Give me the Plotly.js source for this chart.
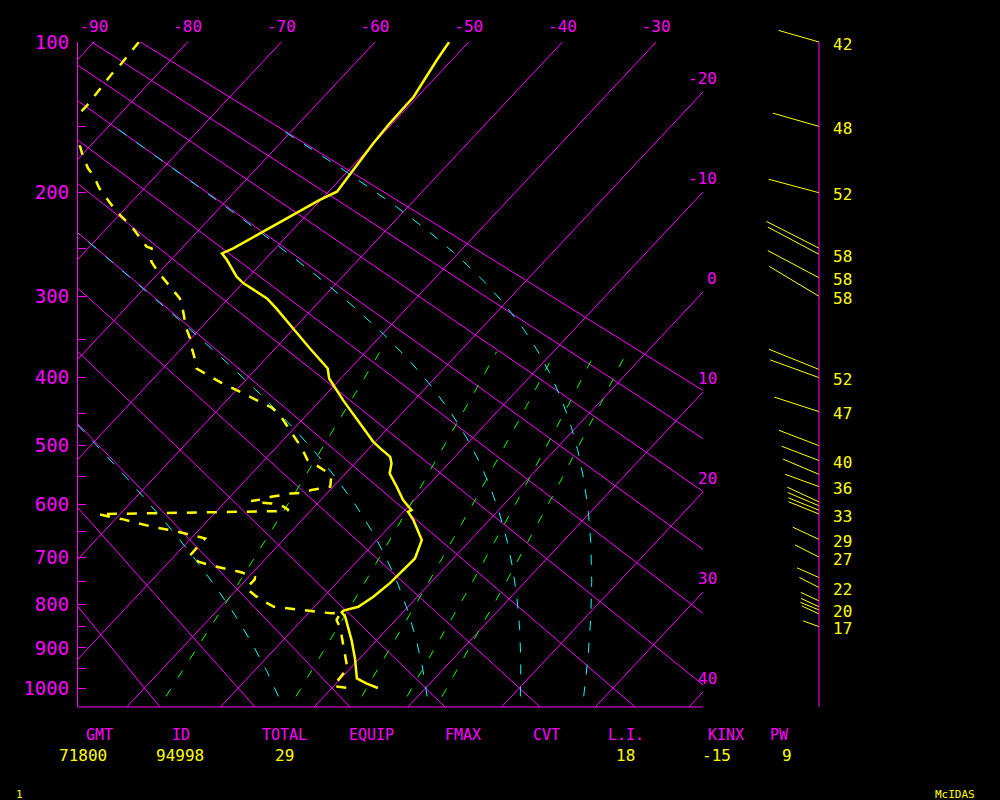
<!DOCTYPE html>
<html>
<head>
<meta charset="utf-8">
<script src="https://cdn.plot.ly/plotly-3.0.1.min.js"></script>
<style>
  html, body { margin: 0; padding: 0; background: #000; }
  #chart { width: 1000px; height: 800px; }
</style>
</head>
<body>
<div id="chart"></div>
<script>
// ---------------- DATA ----------------
// Temperature profile (hPa, °C)
const tempP = [100, 109.5, 130.8, 147.9, 161.8, 184.3, 199.1, 206.1, 250.1, 255.1, 261.7, 278.9, 285.9, 302.3, 313.6, 337.1, 361.8, 387.7, 401.1, 431.3, 493.9, 504.3, 517.9, 528.7, 545.4, 568.3, 591.7, 609.8, 612.9, 628.2, 660.0, 666.3, 702.6, 733.3, 753.7, 783.1, 805.1, 813.5, 816.9, 827.5, 850.3, 881.3, 925.5, 975.3, 988.1, 1000];
const tempT = [-52.1, -51.6, -50.4, -50.3, -50.05, -49.5, -49.1, -50.1, -54.5, -55.2, -54.0, -51.3, -49.9, -45.9, -43.9, -40.1, -36.3, -32.4, -31.25, -27.6, -20.2, -18.8, -16.9, -16.1, -15.3, -13.2, -11.2, -9.3, -9.5, -8.1, -5.7, -5.2, -4.1, -4.2, -4.3, -4.7, -5.3, -6.5, -6.55, -5.7, -4.4, -2.7, -0.5, 1.7, 3.2, 4.9];

// Dewpoint profile (hPa, °C)
const dewP = [100, 106.8, 112.2, 117.3, 123.7, 129.1, 136.0, 142.4, 153.1, 164.2, 171.6, 180.4, 187.0, 196.3, 201.9, 211.9, 219.2, 229.7, 237.4, 248.6, 250.2, 255.1, 263.4, 273.7, 283.1, 293.1, 302.3, 313.6, 325.2, 337.1, 349.2, 361.8, 374.5, 387.7, 394.4, 401.1, 407.1, 413.5, 421.0, 427.5, 435.2, 441.9, 451.7, 465.6, 481.9, 495.5, 511.4, 523.2, 533.2, 542.7, 551.1, 568.3, 571.1, 574.0, 578.8, 579.8, 582.9, 585.9, 590.5, 593.5, 596.6, 597.7, 600.8, 609.8, 611.6, 617.2, 624.0, 626.9, 632.5, 642.0, 649.0, 658.6, 663.0, 698.0, 709.5, 716.2, 725.0, 730.0, 736.9, 741.0, 745.8, 765.0, 781.6, 794.0, 805.1, 807.3, 812.4, 817.6, 819.2, 818.0, 834.9, 853.3, 881.3, 900.5, 929.6, 950.2, 975.3, 995.0, 1000];
const dewT = [-85.2, -85.0, -84.9, -84.9, -84.7, -84.5, -84.4, -84.4, -84.5, -81.0, -79.7, -78.0, -76.5, -74.8, -73.6, -71.5, -69.9, -67.5, -66.0, -63.9, -63.2, -62.7, -61.9, -60.2, -58.5, -56.7, -55.2, -53.9, -52.7, -51.5, -50.1, -48.9, -47.6, -46.4, -45.0, -43.6, -42.3, -40.8, -39.1, -37.6, -35.9, -34.5, -33.0, -31.4, -29.6, -28.1, -26.5, -25.4, -23.7, -22.2, -21.2, -20.3, -21.1, -22.0, -22.8, -23.8, -24.7, -25.6, -26.4, -27.3, -26.0, -24.9, -23.7, -22.4, -23.1, -42.3, -40.2, -39.1, -37.6, -34.95, -32.4, -29.8, -28.5, -28.4, -26.8, -25.3, -22.7, -21.5, -20.0, -19.3, -19.1, -19.1, -17.3, -15.8, -14.3, -13.1, -10.8, -8.6, -7.5, -6.6, -6.3, -5.1, -3.7, -2.7, -1.3, -0.3, -0.2, -0.05, 1.8];

// Background lines
const isotherms = [-90, -80, -70, -60, -50, -40, -30, -20, -10, 0, 10, 20, 30, 40];
const dryAdiabatsC = [-20, -10, 0, 10, 20, 30, 40, 50, 60, 70, 80, 90];
const mixingRatios = [1, 3, 5, 7, 9];          // g/kg
const thetaE_C = [0, 30, 60, 90];              // equivalent potential temperature, °C

// Axis labels
const pressureTicks = [100, 150, 200, 250, 300, 350, 400, 450, 500, 550, 600, 650, 700, 750, 800, 850, 900, 950, 1000];
const pressureLabels = ['100', '', '200', '', '300', '', '400', '', '500', '', '600', '', '700', '', '800', '', '900', '', '1000'];
const topTempTicks = [-90, -80, -70, -60, -50, -40, -30];
const rightTempLabels = [-20, -10, 0, 10, 20, 30, 40];

// Winds
const windP   = [100, 150, 200, 250, 256, 280, 300, 389, 400, 448, 500, 524, 547, 568, 595, 602, 610, 617, 665, 700, 742, 763, 792, 805, 812, 821, 850];
const windDir = [286, 286, 285, 297, 298, 298, 301, 292, 290, 288, 291, 291, 293, 290, 295, 293, 292, 292, 295, 297, 294, 297, 295, 295, 292, 295, 290];
const windSpd = [42, 48, 52, 59, 58, 58, 58, 54, 52, 47, 43, 40, 39, 36, 35, 34, 33, 33, 29, 27, 24, 22, 20, 20, 20, 19, 17];
const windLabeled = [1, 1, 1, 0, 1, 1, 1, 0, 1, 1, 0, 1, 0, 1, 0, 0, 0, 1, 1, 1, 0, 1, 0, 0, 1, 0, 1];

// Station statistics
const statNames  = ['GMT', 'ID', 'TOTAL', 'EQUIP', 'FMAX', 'CVT', 'L.I.', 'KINX', 'PW'];
const statValues = ['71800', '94998', '29', '', '', '', '18', '-15', '9'];

// ---------------- GEOMETRY ----------------
const KEXP = 0.295, PTOP = 100, PBOT = 1050, SKEW = 66.5;
const PLOT_H = 665, EXTRA_T = 22, FULL_H = 687;
const MARGIN_L = 78, MARGIN_T = 20, MARGIN_B = 93, PLOT_W = 625, FULL_W = 922;
const PLOT_BOTTOM_PX = 707;
function Yc(p) { return Math.pow(p, KEXP); }
const Y0 = Yc(PTOP), Y1 = Yc(PBOT);
const yPerPx = (Y1 - Y0) / PLOT_H;
function frac(p) { return (Yc(p) - Y0) / (Y1 - Y0); }
function Xc(T, p) { return T - SKEW * frac(p); }
const XMIN = -91.7, XMAX = -25.0;

const MAG = '#ff00ff', YEL = '#ffff00', CYA = '#00ffff', GRN = '#00ff00';
const FONT = 'DejaVu Sans Mono, monospace';

function esat(Tc) { return 6.112 * Math.exp(17.67 * Tc / (Tc + 243.5)); }
function wsat(Tc, p) { const e = esat(Tc); return 0.622 * e / (p - e); }
function thetaE(TK, p) {
  const w = wsat(TK - 273.15, p);
  return TK * Math.pow(1000 / p, 0.2857) * Math.exp(2.5e6 * w / (1004 * TK));
}
function tempFromThetaE(target, p) {
  let lo = 150, hi = 330;
  for (let k = 0; k < 60; k++) {
    const mid = 0.5 * (lo + hi);
    if (thetaE(mid, p) > target) hi = mid; else lo = mid;
  }
  return 0.5 * (lo + hi);
}

const traces = [];
function lineTrace(ps, Ts, color, width, dash) {
  return {
    type: 'scatter', mode: 'lines',
    x: ps.map((p, i) => (p === null ? null : Xc(Ts[i], p))),
    y: ps.map(p => (p === null ? null : Yc(p))),
    line: { color: color, width: width, dash: dash || 'solid' },
    hoverinfo: 'skip', xaxis: 'x', yaxis: 'y'
  };
}

// Isotherms
isotherms.forEach(T => {
  traces.push(lineTrace([PTOP, PBOT], [T, T], MAG, 1));
});

// Dry adiabats
dryAdiabatsC.forEach(th => {
  const ps = [], Ts = [];
  for (let p = PTOP; p <= PBOT; p += 10) {
    ps.push(p);
    Ts.push((th + 273.15) * Math.pow(p / 1000, 0.2857) - 273.15);
  }
  traces.push(lineTrace(ps, Ts, MAG, 1));
});

// Mixing ratio lines
mixingRatios.forEach(w => {
  const ps = [], Ts = [];
  for (let p = 1022; p >= 360; p -= 8) {
    const e = w * p / (622 + w);
    const L = Math.log(e / 6.112);
    ps.push(p);
    Ts.push(243.5 * L / (17.67 - L));
  }
  traces.push(lineTrace(ps, Ts, GRN, 1, '9px,13px'));
});

// Moist adiabats (constant equivalent potential temperature)
thetaE_C.forEach(te => {
  const target = te + 273.15;
  const ps = [], Ts = [];
  for (let p = 1022; p >= 150; p -= 6) {
    ps.push(p);
    Ts.push(tempFromThetaE(target, p) - 273.15);
  }
  traces.push(lineTrace(ps, Ts, CYA, 1, '10px,12px'));
});

// Dewpoint and temperature profiles
traces.push(lineTrace(dewP, dewT, YEL, 2.5, '10px,10px'));
traces.push(lineTrace(tempP, tempT, YEL, 2.5));

// Wind sticks (x2/y2: pixel-like x units, same pressure scale, extended upward)
const wx = [], wy = [];
windP.forEach((p, i) => {
  const a = windDir[i] * Math.PI / 180;
  const s = windSpd[i];
  wx.push(0, s * Math.sin(a), null);
  wy.push(Yc(p), Yc(p) - s * Math.cos(a) * yPerPx, null);
});
traces.push({
  type: 'scatter', mode: 'lines', x: wx, y: wy, xaxis: 'x2', yaxis: 'y2',
  line: { color: YEL, width: 1 }, hoverinfo: 'skip'
});

// ---------------- ANNOTATIONS ----------------
const annotations = [];
rightTempLabels.forEach(T => {
  const f = (T - XMAX) / SKEW;
  annotations.push({
    xref: 'x', yref: 'y', x: XMAX, y: Y0 + f * (Y1 - Y0),
    text: String(T), showarrow: false, xanchor: 'right', yanchor: 'middle',
    xshift: 16, yshift: 14, font: { family: FONT, size: 16, color: MAG }
  });
});
windP.forEach((p, i) => {
  if (!windLabeled[i]) return;
  annotations.push({
    xref: 'x2', yref: 'y2', x: 23.5, y: Yc(p), text: String(windSpd[i]),
    showarrow: false, xanchor: 'center', yanchor: 'middle', yshift: -2,
    font: { family: FONT, size: 16, color: YEL }
  });
});
function px2paperX(px) { return (px - MARGIN_L) / FULL_W; }
function px2paperY(py) { return (PLOT_BOTTOM_PX - py) / FULL_H; }
const statNameX = [99, 181, 284, 371, 463, 546, 626, 726, 779];
const statValX  = [83, 180, 284, 371, 463, 546, 625, 716, 787];
statNames.forEach((n, i) => {
  annotations.push({
    xref: 'paper', yref: 'paper', x: px2paperX(statNameX[i]), y: px2paperY(735),
    text: n, showarrow: false, xanchor: 'center', yanchor: 'middle',
    font: { family: FONT, size: 15, color: MAG }
  });
  if (statValues[i] !== '') {
    annotations.push({
      xref: 'paper', yref: 'paper', x: px2paperX(statValX[i]), y: px2paperY(755),
      text: statValues[i], showarrow: false, xanchor: 'center', yanchor: 'middle',
      font: { family: FONT, size: 16, color: YEL }
    });
  }
});
annotations.push({
  xref: 'paper', yref: 'paper', x: px2paperX(19), y: px2paperY(794), text: '1',
  showarrow: false, xanchor: 'center', yanchor: 'middle', font: { family: FONT, size: 11, color: YEL }
});
annotations.push({
  xref: 'paper', yref: 'paper', x: px2paperX(955), y: px2paperY(794), text: 'McIDAS',
  showarrow: false, xanchor: 'center', yanchor: 'middle', font: { family: FONT, size: 11, color: YEL }
});

// ---------------- LAYOUT ----------------
const layout = {
  width: 1000, height: 800,
  paper_bgcolor: '#000000', plot_bgcolor: '#000000',
  margin: { l: MARGIN_L, r: 0, t: MARGIN_T, b: MARGIN_B, pad: 0 },
  showlegend: false, hovermode: false,
  xaxis: {
    domain: [0, PLOT_W / FULL_W], range: [XMIN, XMAX], side: 'top', anchor: 'y',
    tickvals: topTempTicks, ticktext: topTempTicks.map(v => String(v)),
    ticks: '', showgrid: false, zeroline: false, showline: false,
    ticklabelstandoff: 6,
    tickfont: { family: FONT, size: 16, color: MAG }, fixedrange: true
  },
  yaxis: {
    domain: [0, PLOT_H / FULL_H], anchor: 'x',
    range: [Y1, Y0], tickvals: pressureTicks.map(Yc), ticktext: pressureLabels,
    ticks: 'inside', ticklen: 8, tickcolor: MAG, tickwidth: 1,
    showline: true, linecolor: MAG, linewidth: 1, showgrid: false, zeroline: false,
    ticklabelstandoff: 4,
    tickfont: { family: FONT, size: 19, color: MAG }, fixedrange: true
  },
  xaxis2: {
    domain: [PLOT_W / FULL_W, 1], range: [-116, 181], anchor: 'y2',
    showgrid: false, showticklabels: false, ticks: '', showline: false,
    zeroline: false, fixedrange: true
  },
  yaxis2: {
    domain: [0, 1], anchor: 'x2', range: [Y1, Y0 - EXTRA_T * yPerPx],
    showgrid: false, showticklabels: false, ticks: '', showline: false,
    zeroline: false, fixedrange: true
  },
  shapes: [
    { type: 'line', xref: 'x domain', yref: 'y domain', x0: 0, x1: 1, y0: 0, y1: 0,
      line: { color: MAG, width: 1 } },
    { type: 'line', xref: 'x2', yref: 'y2', x0: 0, x1: 0, y0: Y0, y1: Y1,
      line: { color: MAG, width: 1 } }
  ],
  annotations: annotations
};

Plotly.newPlot('chart', traces, layout, { displayModeBar: false, staticPlot: true });
</script>
</body>
</html>
